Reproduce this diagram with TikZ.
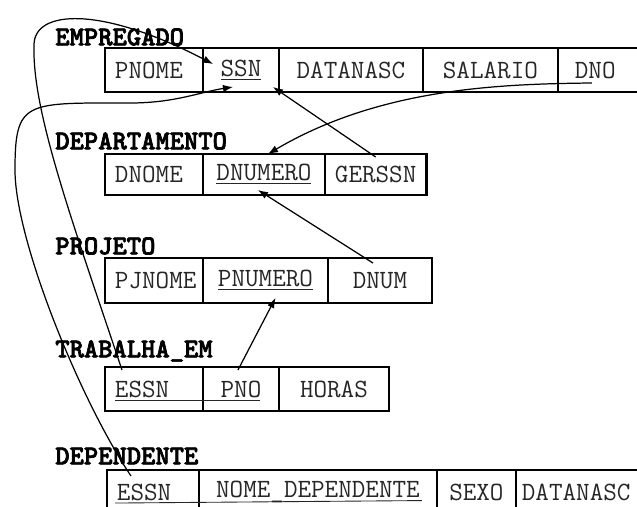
\documentclass[tikz,border=0pt]{standalone}
\usepackage{fontspec}
\newfontfamily\boldmono{lmmonolt10-bold.otf}[FakeBold=2.5]
\usetikzlibrary{positioning,arrows.meta,calc}

\newcommand{\cellfont}{\ttfamily\fontsize{15}{17}\selectfont}
\newcommand{\relfont}{\boldmono\fontsize{15.5}{17}\selectfont}

\begin{document}
\begin{tikzpicture}[x=0.02cm, y=-0.02cm,
    cell/.style={draw, line width=1.6pt, outer sep=0pt, inner xsep=0.2cm, minimum height=0.88cm, text=black!85, font=\cellfont},
    keycell/.style={cell, anchor=north west, align=left},
    relname/.style={anchor=west, inner sep=0pt, font=\relfont},
    fk/.style={-{Latex[length=2mm,width=1.5mm]}, line width=0.7pt},
    uline/.style={line width=0.5pt, black!85}]
    \useasboundingbox (0,0) rectangle (637,507);

    % EMPREGADO
    \node[relname] (empregado) at (55,37) {EMPREGADO};
    \node[keycell, text width=1.56cm] (pnome) at (105,48) {PNOME};
    \node[cell, minimum width=1.52cm, right=0pt of pnome] (ssn) {\underline{SSN}};
    \node[cell, minimum width=2.88cm, right=0pt of ssn] (datanasc) {DATANASC};
    \node[cell, minimum width=2.7cm, right=0pt of datanasc] (salario) {SALARIO};
    \node[cell, inner xsep=0.34cm, text width=1.36cm, align=left, right=0pt of salario] (dno) {DNO};

    % DEPARTAMENTO
    \node[relname] (departamento) at (55,141) {DEPARTAMENTO};
    \node[keycell, text width=1.56cm, minimum height=0.82cm] (dnome) at (105,154) {DNOME};
    \node[cell, minimum height=0.82cm, minimum width=2.44cm, right=0pt of dnome] (dnumero) {\underline{DNUMERO}};
    \node[cell, minimum height=0.82cm, minimum width=1.98cm, right=0pt of dnumero] (gerssn) {GERSSN};

    % PROJETO
    \node[relname] (projeto) at (55,246) {PROJETO};
    \node[keycell, text width=1.56cm, minimum height=0.9cm] (pjnome) at (105,258) {PJNOME};
    \node[cell, minimum height=0.9cm, minimum width=2.5cm, right=0pt of pjnome] (pnumero) {\underline{PNUMERO}};
    \node[cell, minimum height=0.9cm, minimum width=2.08cm, right=0pt of pnumero] (dnum) {DNUM};

    % TRABALHA_EM
    \node[relname] (trabalha) at (55,351) {TRABALHA\_EM};
    \node[keycell, text width=1.56cm] (tessn) at (105,367) {ESSN};
    \node[cell, minimum width=1.52cm, right=0pt of tessn] (pno) {PNO};
    \node[cell, minimum width=2.2cm, right=0pt of pno] (horas) {HORAS};

    % DEPENDENTE
    \node[relname] (dependente) at (55,456) {DEPENDENTE};
    \node[keycell, text width=1.44cm] (dessn) at (107,470) {ESSN};
    \node[cell, minimum width=4.76cm, right=0pt of dessn] (nomedep) {NOME\_DEPENDENTE};
    \node[cell, minimum width=1.58cm, right=0pt of nomedep] (sexo) {SEXO};
    \node[cell, inner xsep=0.12cm, text width=2.44cm, align=left, right=0pt of sexo] (ddatanasc) {DATANASC};

    % chaves compostas
    \draw[uline] ($(tessn.base west)+(10,3)$) -- ($(pno.base)+(19,3)$);
    \draw[uline] ($(dessn.base west)+(8,3)$) -- ($(nomedep.base)+(104,3)$);

    % chaves estrangeiras
    \draw[fk] ([yshift=-0.06cm]gerssn.north) -- ([xshift=-0.12cm,yshift=0.1cm]ssn.south east);
    \draw[fk] ([xshift=0.68cm,yshift=0.18cm]dno.south west) .. controls (500,84) and (380,88) .. ([xshift=0.08cm]dnumero.north);
    \draw[fk] ([xshift=-0.14cm,yshift=-0.1cm]dnum.north) -- ([xshift=-0.12cm,yshift=0.1cm]dnumero.south);
    \draw[fk] ([xshift=-0.06cm,yshift=-0.06cm]pno.north) -- ([xshift=0.2cm,yshift=0.1cm]pnumero.south);
    \draw[fk] ([xshift=0.34cm,yshift=-0.06cm]tessn.north west) .. controls (70,215) and (32,110) .. (34,45)
        .. controls (34,10) and (100,5) .. ([xshift=0.2cm,yshift=-0.32cm]ssn.north west);
    \draw[fk] ([xshift=0.48cm,yshift=-0.12cm]dessn.north west) .. controls (80,400) and (15,240) .. (15,170)
        .. controls (15,100) and (25,103) .. (130,103) .. controls (175,103) and (200,92) .. ([xshift=0.6cm,yshift=0.1cm]ssn.south west);
\end{tikzpicture}
\end{document}
